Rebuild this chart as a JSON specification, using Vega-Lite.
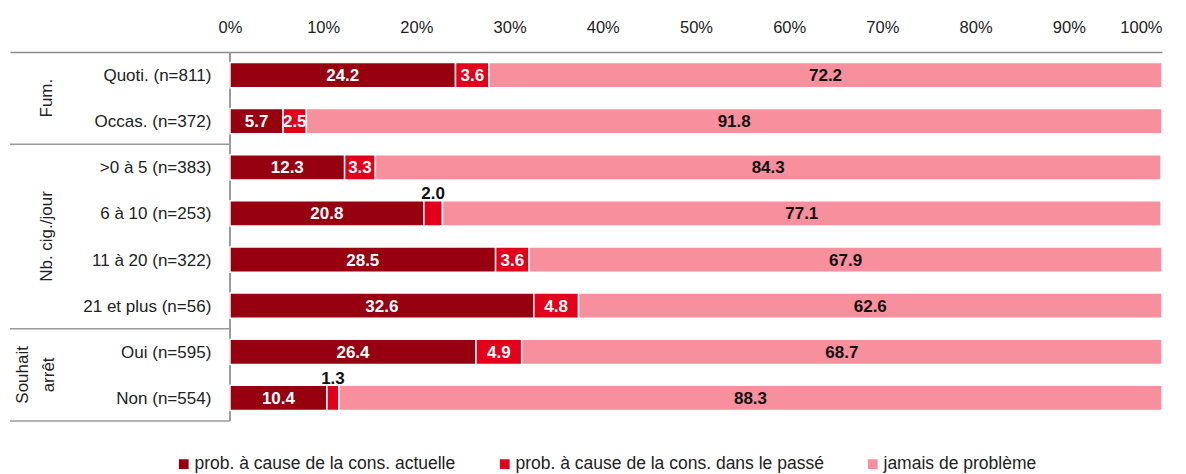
{
  "$schema": "https://vega.github.io/schema/vega-lite/v6.json",
  "autosize": {"type": "none"},
  "padding": {"left": 10, "top": 52, "right": 24, "bottom": 53},
  "width": 1152,
  "height": 369,
  "background": "white",
  "config": {
    "view": {"stroke": null},
    "font": "Liberation Sans, Arial, sans-serif",
    "text": {"font": "Liberation Sans, Arial, sans-serif"}
  },
  "datasets": {
    "bars": [
      {"row": "Quoti. (n=811)", "cat": "prob. à cause de la cons. actuelle", "k": 1, "value": 24.2},
      {"row": "Quoti. (n=811)", "cat": "prob. à cause de la cons. dans le passé", "k": 2, "value": 3.6},
      {"row": "Quoti. (n=811)", "cat": "jamais de problème", "k": 3, "value": 72.2},
      {"row": "Occas. (n=372)", "cat": "prob. à cause de la cons. actuelle", "k": 1, "value": 5.7},
      {"row": "Occas. (n=372)", "cat": "prob. à cause de la cons. dans le passé", "k": 2, "value": 2.5},
      {"row": "Occas. (n=372)", "cat": "jamais de problème", "k": 3, "value": 91.8},
      {"row": ">0 à 5 (n=383)", "cat": "prob. à cause de la cons. actuelle", "k": 1, "value": 12.3},
      {"row": ">0 à 5 (n=383)", "cat": "prob. à cause de la cons. dans le passé", "k": 2, "value": 3.3},
      {"row": ">0 à 5 (n=383)", "cat": "jamais de problème", "k": 3, "value": 84.3},
      {"row": "6 à 10 (n=253)", "cat": "prob. à cause de la cons. actuelle", "k": 1, "value": 20.8},
      {"row": "6 à 10 (n=253)", "cat": "prob. à cause de la cons. dans le passé", "k": 2, "value": 2.0},
      {"row": "6 à 10 (n=253)", "cat": "jamais de problème", "k": 3, "value": 77.1},
      {"row": "11 à 20 (n=322)", "cat": "prob. à cause de la cons. actuelle", "k": 1, "value": 28.5},
      {"row": "11 à 20 (n=322)", "cat": "prob. à cause de la cons. dans le passé", "k": 2, "value": 3.6},
      {"row": "11 à 20 (n=322)", "cat": "jamais de problème", "k": 3, "value": 67.9},
      {"row": "21 et plus (n=56)", "cat": "prob. à cause de la cons. actuelle", "k": 1, "value": 32.6},
      {"row": "21 et plus (n=56)", "cat": "prob. à cause de la cons. dans le passé", "k": 2, "value": 4.8},
      {"row": "21 et plus (n=56)", "cat": "jamais de problème", "k": 3, "value": 62.6},
      {"row": "Oui (n=595)", "cat": "prob. à cause de la cons. actuelle", "k": 1, "value": 26.4},
      {"row": "Oui (n=595)", "cat": "prob. à cause de la cons. dans le passé", "k": 2, "value": 4.9},
      {"row": "Oui (n=595)", "cat": "jamais de problème", "k": 3, "value": 68.7},
      {"row": "Non (n=554)", "cat": "prob. à cause de la cons. actuelle", "k": 1, "value": 10.4},
      {"row": "Non (n=554)", "cat": "prob. à cause de la cons. dans le passé", "k": 2, "value": 1.3},
      {"row": "Non (n=554)", "cat": "jamais de problème", "k": 3, "value": 88.3}
    ],
    "groups": [
      {"row": "Quoti. (n=811)", "label": "Fum."},
      {"row": "6 à 10 (n=253)", "label": "Nb. cig./jour"}
    ],
    "groups2": [
      {"row": "Oui (n=595)", "label": "Souhait\narrêt"}
    ],
    "seps": [
      {"row": "Occas. (n=372)"},
      {"row": "21 et plus (n=56)"},
      {"row": "Non (n=554)"}
    ]
  },
  "encoding": {
    "y": {
      "field": "row",
      "type": "nominal",
      "axis": null,
      "scale": {
        "domain": ["Quoti. (n=811)", "Occas. (n=372)", ">0 à 5 (n=383)", "6 à 10 (n=253)", "11 à 20 (n=322)", "21 et plus (n=56)", "Oui (n=595)", "Non (n=554)"],
        "paddingInner": 0,
        "paddingOuter": 0
      }
    }
  },
  "layer": [
    {
      "data": {"name": "seps"},
      "mark": {"type": "rule", "color": "#9a9a9a", "strokeWidth": 1.5},
      "encoding": {
        "y": {"field": "row", "type": "nominal", "bandPosition": 1},
        "x": {"datum": -23.6, "type": "quantitative"},
        "x2": {"datum": 0}
      }
    },
    {
      "data": {"name": "seps"},
      "mark": {"type": "rule", "color": "#9a9a9a", "strokeWidth": 1.5},
      "encoding": {
        "y": null,
        "x": {"datum": 0, "type": "quantitative"}
      }
    },
    {
      "data": {"name": "bars"},
      "mark": {"type": "bar", "height": {"band": 0.55}, "stroke": "white", "strokeWidth": 1.5},
      "encoding": {
        "x": {
          "field": "value",
          "type": "quantitative",
          "stack": "zero",
          "scale": {"domain": [-23.6, 100], "nice": false, "zero": false},
          "axis": {
            "orient": "top",
            "values": [0, 10, 20, 30, 40, 50, 60, 70, 80, 90, 100],
            "labelExpr": "datum.value + '%'",
            "title": null,
            "ticks": false,
            "grid": false,
            "domain": true,
            "domainColor": "#8c8c8c",
            "domainWidth": 1.5,
            "labelFontSize": 16.5,
            "labelColor": "#222222",
            "labelPadding": 17,
            "labelFont": "Liberation Sans, Arial, sans-serif"
          }
        },
        "order": {"field": "k", "type": "quantitative"},
        "color": {
          "field": "cat",
          "type": "nominal",
          "scale": {
            "domain": ["prob. à cause de la cons. actuelle", "prob. à cause de la cons. dans le passé", "jamais de problème"],
            "range": ["#96000f", "#e2001a", "#f78f9c"]
          },
          "legend": {
            "title": null,
            "orient": "none",
            "direction": "horizontal",
            "legendX": 165,
            "legendY": 403,
            "symbolType": "square",
            "symbolSize": 95,
            "symbolStrokeWidth": 0,
            "labelFontSize": 17.5,
            "labelLimit": 500,
            "labelColor": "#222222",
            "labelFont": "Liberation Sans, Arial, sans-serif",
            "labelOffset": 2,
            "columnPadding": 40,
            "padding": 0
          }
        }
      }
    },
    {
      "data": {"name": "bars"},
      "mark": {"type": "text", "fontWeight": "bold", "fontSize": 17, "baseline": "middle", "dy": 1},
      "encoding": {
        "x": {"field": "value", "type": "quantitative", "stack": "zero", "bandPosition": 0.5},
        "order": {"field": "k", "type": "quantitative"},
        "text": {"field": "value", "type": "quantitative", "format": ".1f", "condition": {"test": "datum.value < 2.2", "value": ""}},
        "color": {"condition": {"test": "datum.k == 3", "value": "#111111"}, "value": "white"}
      }
    },
    {
      "data": {"name": "bars"},
      "mark": {"type": "text", "fontWeight": "bold", "fontSize": 17, "baseline": "alphabetic", "dy": -14, "color": "#111111"},
      "encoding": {
        "x": {"field": "value", "type": "quantitative", "stack": "zero", "bandPosition": 0.5},
        "order": {"field": "k", "type": "quantitative"},
        "text": {"field": "value", "type": "quantitative", "format": ".1f", "condition": {"test": "datum.value >= 2.2", "value": ""}}
      }
    },
    {
      "data": {"name": "bars"},
      "transform": [{"filter": "datum.k == 1"}],
      "mark": {"type": "text", "align": "right", "baseline": "middle", "fontSize": 17, "color": "#222222", "dy": 1},
      "encoding": {
        "x": {"datum": -2.0, "type": "quantitative"},
        "text": {"field": "row", "type": "nominal"}
      }
    },
    {
      "data": {"name": "groups"},
      "mark": {"type": "text", "align": "center", "baseline": "middle", "angle": 270, "fontSize": 17, "color": "#222222"},
      "encoding": {
        "y": {"field": "row", "type": "nominal", "bandPosition": 1},
        "x": {"datum": -19.6, "type": "quantitative"},
        "text": {"field": "label", "type": "nominal"}
      }
    },
    {
      "data": {"name": "groups2"},
      "mark": {"type": "text", "align": "center", "baseline": "middle", "angle": 270, "fontSize": 17, "color": "#222222", "lineBreak": "\n", "lineHeight": 26},
      "encoding": {
        "y": {"field": "row", "type": "nominal", "bandPosition": 1},
        "x": {"datum": -22.2, "type": "quantitative"},
        "text": {"field": "label", "type": "nominal"}
      }
    }
  ]
}
